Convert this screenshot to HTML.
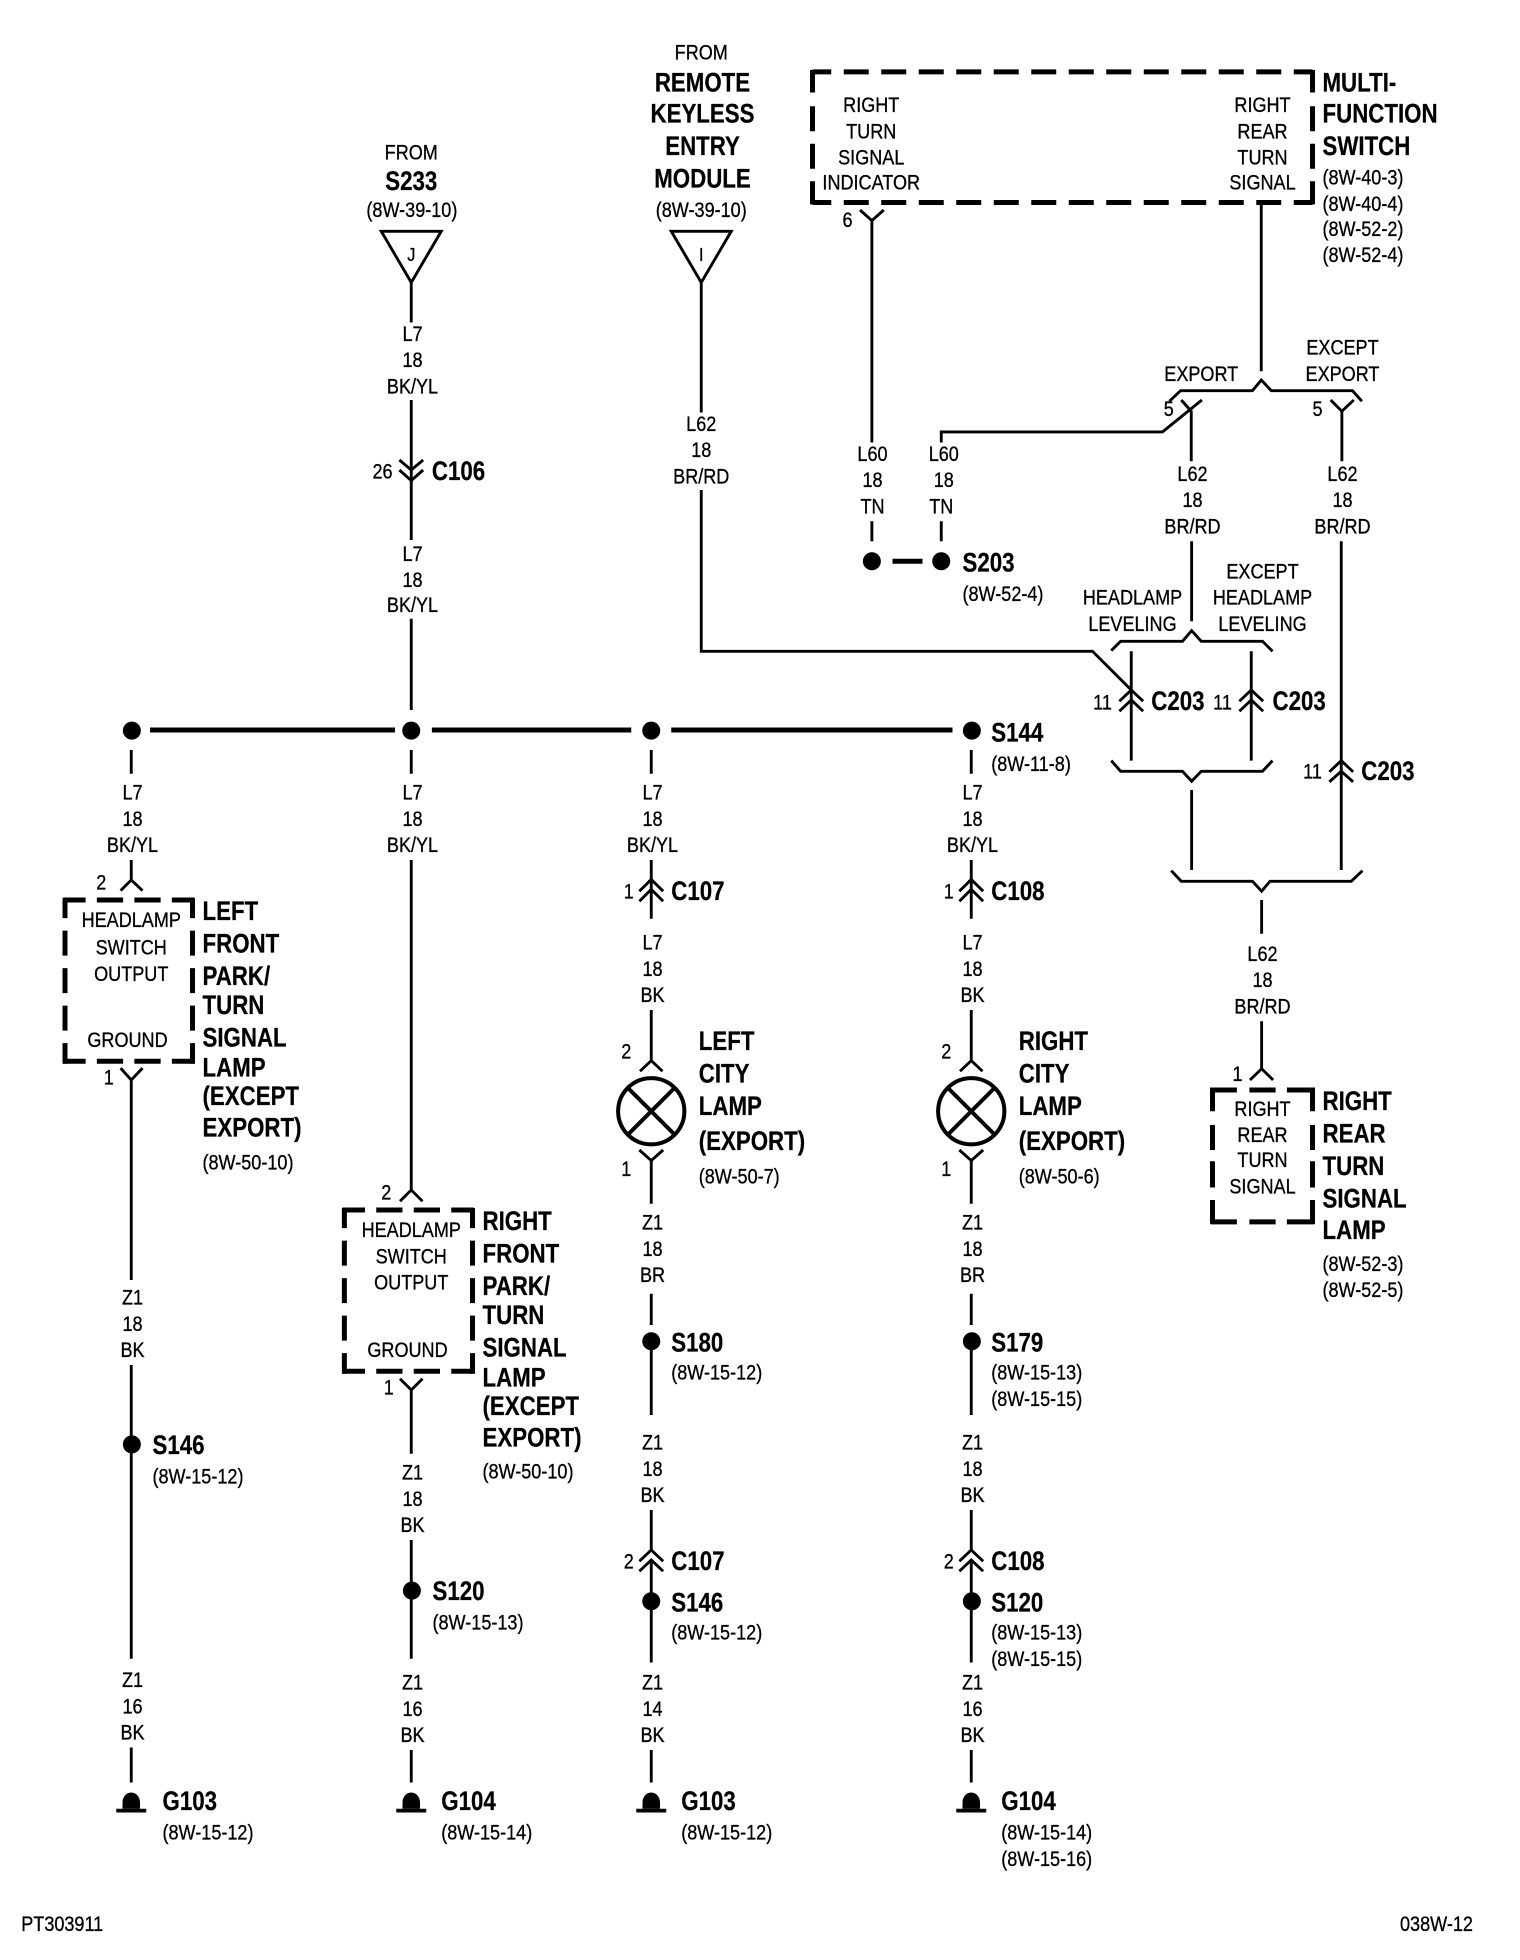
<!DOCTYPE html>
<html><head><meta charset="utf-8"><title>Wiring diagram</title>
<style>
html,body{margin:0;padding:0;background:#fff}
svg{display:block}
text{font-family:"Liberation Sans",sans-serif;fill:#000;dominant-baseline:central;transform-box:fill-box}
.t{font-size:16.8px;text-anchor:middle;transform:translateY(.6px) scaleX(.86);transform-origin:center;stroke:#000;stroke-width:.25}
.l{font-size:16.8px;text-anchor:start;transform:translateY(.6px) scaleX(.86);transform-origin:left center;stroke:#000;stroke-width:.25}
.b{font-size:21.6px;font-weight:bold;text-anchor:start;transform:translateY(.6px) scaleX(.825);transform-origin:left center;stroke:#000;stroke-width:.2}
.m{font-size:21.6px;font-weight:bold;text-anchor:middle;transform:translateY(.6px) scaleX(.825);transform-origin:center;stroke:#000;stroke-width:.2}
.w{fill:none;stroke:#000;stroke-width:2.3}
.k{fill:none;stroke:#000;stroke-width:4}
.d{fill:none;stroke:#000;stroke-width:3.2}
</style></head><body>
<svg width="1520" height="1960" viewBox="0 0 1216 1568" xmlns="http://www.w3.org/2000/svg">
<rect width="1216" height="1568" fill="#fff"/>
<!-- top-left feeds -->
<text class="t" x="329" y="122">FROM</text><text class="m" x="329" y="145">S233</text><text class="t" x="329.500" y="168">(8W-39-10)</text>
<polygon class="w" points="305,185 353,185 329,226"/><text class="t" x="329" y="203" style="font-size:15px">J</text>
<path class="w" d="M329 226V258M329 320V432M329 495V568"/>
<text class="t" x="330" y="267">L7</text><text class="t" x="330" y="288">18</text><text class="t" x="330" y="309">BK/YL</text>
<path class="w" d="M319.500 368L329 376L338.500 368M319.500 376L329 384.500L338.500 376"/>
<text class="t" x="306" y="377">26</text><text class="b" x="345.500" y="377">C106</text>
<text class="t" x="330" y="443">L7</text><text class="t" x="330" y="464">18</text><text class="t" x="330" y="484">BK/YL</text>

<text class="t" x="561" y="42">FROM</text><text class="m" x="562" y="66">REMOTE</text><text class="m" x="562" y="91">KEYLESS</text><text class="m" x="562" y="117">ENTRY</text><text class="m" x="562" y="143">MODULE</text><text class="t" x="561" y="168">(8W-39-10)</text>
<polygon class="w" points="537,185 585,185 561,226"/><text class="t" x="561" y="203" style="font-size:15px">I</text>
<path class="w" d="M561 226V330M561 392V521H874L905 552"/>
<text class="t" x="561" y="339">L62</text><text class="t" x="561" y="360">18</text><text class="t" x="561" y="381">BR/RD</text>

<!-- multifunction switch -->
<line class="k" x1="650" y1="57.500" x2="1050" y2="57.500" stroke-dasharray="20 10" stroke-dashoffset="5"/>
<line class="k" x1="650" y1="162" x2="1050" y2="162" stroke-dasharray="20 10" stroke-dashoffset="5"/>
<line class="k" x1="650" y1="56" x2="650" y2="163.500" stroke-dasharray="18 11 20 10 20 10 19"/>
<line class="k" x1="1050" y1="56" x2="1050" y2="163.500" stroke-dasharray="18 11 20 10 20 10 19"/>
<text class="t" x="697" y="84">RIGHT</text><text class="t" x="697" y="105">TURN</text><text class="t" x="697" y="126">SIGNAL</text><text class="t" x="697" y="146">INDICATOR</text>
<text class="t" x="1010" y="84">RIGHT</text><text class="t" x="1010" y="105">REAR</text><text class="t" x="1010" y="126">TURN</text><text class="t" x="1010" y="146">SIGNAL</text>
<text class="b" x="1058" y="66">MULTI-</text><text class="b" x="1058" y="91">FUNCTION</text><text class="b" x="1058" y="117">SWITCH</text>
<text class="l" x="1058" y="142">(8W-40-3)</text><text class="l" x="1058" y="163">(8W-40-4)</text><text class="l" x="1058" y="183">(8W-52-2)</text><text class="l" x="1058" y="204">(8W-52-4)</text>

<path class="w" d="M688 168L697.500 176.500L707 168M697.500 176.500V354M697.500 417V433"/>
<text class="t" x="678" y="176">6</text>
<text class="t" x="698" y="363">L60</text><text class="t" x="698" y="384">18</text><text class="t" x="698" y="405">TN</text>
<text class="t" x="755" y="363">L60</text><text class="t" x="755" y="384">18</text><text class="t" x="753" y="405">TN</text>
<path class="w" d="M753 354V345.500H930L961.500 320M945 320L953 329V369M753 417V433"/>
<circle cx="697.500" cy="449" r="7.200"/><circle cx="753" cy="449" r="7.200"/>
<line class="k" x1="714" y1="449" x2="738" y2="449"/>
<text class="b" x="770" y="450">S203</text><text class="l" x="770" y="475">(8W-52-4)</text>

<path class="w" d="M1009 162V297"/>
<path class="w" d="M935.500 321L944.500 312.500H1002L1009 304L1017 312.500H1082L1089.500 321"/>
<text class="t" x="961" y="299">EXPORT</text><text class="t" x="1074" y="278">EXCEPT</text><text class="t" x="1074" y="299">EXPORT</text>
<text class="t" x="935" y="327">5</text><text class="t" x="1054" y="327">5</text>
<path class="w" d="M1064.500 320L1073.500 329L1083 320M1073.500 329V369"/>
<text class="t" x="954" y="379">L62</text><text class="t" x="954" y="400">18</text><text class="t" x="954" y="421">BR/RD</text>
<text class="t" x="1074" y="379">L62</text><text class="t" x="1074" y="400">18</text><text class="t" x="1074" y="421">BR/RD</text>
<path class="w" d="M953.300 433V497M1073 433V696"/>
<text class="t" x="906" y="478">HEADLAMP</text><text class="t" x="906" y="499">LEVELING</text>
<text class="t" x="1010" y="457">EXCEPT</text><text class="t" x="1010" y="478">HEADLAMP</text><text class="t" x="1010" y="499">LEVELING</text>
<path class="w" d="M889 520.500L896.500 513H946L953.300 504.500L961 513H1010L1018 521"/>
<path class="w" d="M905 521V608.500M1001 521V608.500"/>
<path class="w" d="M895.500 561L905 552L914.500 561M895.500 569L905 560L914.500 569"/>
<path class="w" d="M991.500 561L1001 552L1010.500 561M991.500 569L1001 560L1010.500 569"/>
<path class="w" d="M1063.500 617.500L1073 608.500L1082.500 617.500M1063.500 625.500L1073 617L1082.500 625.500"/>
<text class="t" x="882" y="562">11</text><text class="b" x="921" y="561">C203</text>
<text class="t" x="978" y="562">11</text><text class="b" x="1018" y="561">C203</text>
<text class="t" x="1050" y="617">11</text><text class="b" x="1089" y="617">C203</text>
<path class="w" d="M889 608.500L896.500 617H946L953.300 625L961 617H1010L1018 608.500M953.300 632V696"/>
<path class="w" d="M937 696.500L945 705H1002L1009.300 713L1016 705H1081L1090 696.500M1009.300 720V747"/>
<text class="t" x="1010" y="763">L62</text><text class="t" x="1010" y="784">18</text><text class="t" x="1010" y="805">BR/RD</text>
<path class="w" d="M1009.300 817V855M1000 864L1009.300 855L1018.500 864"/>
<text class="t" x="990" y="859">1</text>
<!-- right rear lamp box -->
<line class="k" x1="968.500" y1="872" x2="1051.500" y2="872" stroke-dasharray="21 10 21 9 22"/>
<line class="k" x1="968.500" y1="977.500" x2="1051.500" y2="977.500" stroke-dasharray="21 10 21 9 22"/>
<line class="k" x1="970" y1="870" x2="970" y2="979" stroke-dasharray="19 11 20 9 21 10 20"/>
<line class="k" x1="1050" y1="870" x2="1050" y2="979" stroke-dasharray="19 11 20 9 21 10 20"/>
<text class="t" x="1010" y="887">RIGHT</text><text class="t" x="1010" y="908">REAR</text><text class="t" x="1010" y="928">TURN</text><text class="t" x="1010" y="949">SIGNAL</text>
<text class="b" x="1058" y="881">RIGHT</text><text class="b" x="1058" y="907">REAR</text><text class="b" x="1058" y="933">TURN</text><text class="b" x="1058" y="959">SIGNAL</text><text class="b" x="1058" y="984">LAMP</text>
<text class="l" x="1058" y="1011">(8W-52-3)</text><text class="l" x="1058" y="1032">(8W-52-5)</text>

<!-- bus -->
<path class="k" d="M120 584H316M345.500 584H505M537 584H762"/>
<circle cx="105.500" cy="584.500" r="7.200"/><circle cx="329" cy="584.500" r="7.200"/><circle cx="521" cy="584.500" r="7.200"/><circle cx="777.500" cy="584.500" r="7.200"/>
<text class="b" x="793" y="586">S144</text><text class="l" x="793" y="611">(8W-11-8)</text>

<!-- column 105 -->
<path class="w" d="M105 600V619M105 688V704M96.500 712.500L105 704L114 712.500"/>
<text class="t" x="106" y="634">L7</text><text class="t" x="106" y="655">18</text><text class="t" x="106" y="676">BK/YL</text>
<text class="t" x="81" y="706">2</text>
<line class="k" x1="50.500" y1="720" x2="155.500" y2="720" stroke-dasharray="18 9 21 9 21 9 18"/>
<line class="k" x1="50.500" y1="849" x2="155.500" y2="849" stroke-dasharray="18 9 21 9 21 9 18"/>
<line class="k" x1="52" y1="718.500" x2="52" y2="851" stroke-dasharray="16 10 20 10 20 10 20 10 17"/>
<line class="k" x1="154" y1="718.500" x2="154" y2="851" stroke-dasharray="16 10 20 10 20 10 20 10 17"/>
<text class="t" x="105" y="736">HEADLAMP</text><text class="t" x="105" y="758">SWITCH</text><text class="t" x="105" y="779">OUTPUT</text><text class="t" x="102" y="832">GROUND</text>
<text class="b" x="162" y="729">LEFT</text><text class="b" x="162" y="755">FRONT</text><text class="b" x="162" y="781">PARK/</text><text class="b" x="162" y="804">TURN</text><text class="b" x="162" y="830">SIGNAL</text><text class="b" x="162" y="854">LAMP</text><text class="b" x="162" y="877">(EXCEPT</text><text class="b" x="162" y="902">EXPORT)</text><text class="l" x="162" y="930">(8W-50-10)</text>
<text class="t" x="87" y="862">1</text>
<path class="w" d="M96.500 854.500L105 864L114 854.500M105 864V1024"/>
<text class="t" x="106" y="1038">Z1</text><text class="t" x="106" y="1059">18</text><text class="t" x="106" y="1080">BK</text>
<path class="w" d="M105 1092V1327M105 1398V1426"/>
<circle cx="105.500" cy="1155.500" r="7.200"/>
<text class="b" x="122" y="1156">S146</text><text class="l" x="122" y="1181">(8W-15-12)</text>
<text class="t" x="106" y="1344">Z1</text><text class="t" x="106" y="1365">16</text><text class="t" x="106" y="1386">BK</text>
<path d="M98 1442A7 8 0 0 1 112 1442L112 1447H98Z"/><rect x="93" y="1447" width="24" height="3"/>
<text class="b" x="130" y="1441">G103</text><text class="l" x="130" y="1466">(8W-15-12)</text>

<!-- column 329 -->
<path class="w" d="M329 600V619M329 688V952M320 961L329 952L338 961"/>
<text class="t" x="330" y="634">L7</text><text class="t" x="330" y="655">18</text><text class="t" x="330" y="676">BK/YL</text>
<text class="t" x="309" y="954">2</text>
<line class="k" x1="274" y1="968" x2="379.500" y2="968" stroke-dasharray="18 9 21 9 21 9 18"/>
<line class="k" x1="274" y1="1097" x2="379.500" y2="1097" stroke-dasharray="18 9 21 9 21 9 18"/>
<line class="k" x1="275.500" y1="966.500" x2="275.500" y2="1099" stroke-dasharray="16 10 20 10 20 10 20 10 17"/>
<line class="k" x1="378" y1="966.500" x2="378" y2="1099" stroke-dasharray="16 10 20 10 20 10 20 10 17"/>
<text class="t" x="329" y="984">HEADLAMP</text><text class="t" x="329" y="1005">SWITCH</text><text class="t" x="329" y="1026">OUTPUT</text><text class="t" x="326" y="1080">GROUND</text>
<text class="b" x="386" y="977">RIGHT</text><text class="b" x="386" y="1003">FRONT</text><text class="b" x="386" y="1029">PARK/</text><text class="b" x="386" y="1052">TURN</text><text class="b" x="386" y="1078">SIGNAL</text><text class="b" x="386" y="1102">LAMP</text><text class="b" x="386" y="1125">(EXCEPT</text><text class="b" x="386" y="1150">EXPORT)</text><text class="l" x="386" y="1177">(8W-50-10)</text>
<text class="t" x="311" y="1110">1</text>
<path class="w" d="M320 1103L329 1112L338 1103M329 1112V1163M329 1232V1327M329 1400V1426"/>
<text class="t" x="330" y="1178">Z1</text><text class="t" x="330" y="1199">18</text><text class="t" x="330" y="1220">BK</text>
<circle cx="329.500" cy="1272.500" r="7.200"/>
<text class="b" x="346" y="1273">S120</text><text class="l" x="346" y="1298">(8W-15-13)</text>
<text class="t" x="330" y="1346">Z1</text><text class="t" x="330" y="1367">16</text><text class="t" x="330" y="1388">BK</text>
<path d="M322 1442A7 8 0 0 1 336 1442L336 1447H322Z"/><rect x="317" y="1447" width="24" height="3"/>
<text class="b" x="353" y="1441">G104</text><text class="l" x="353" y="1466">(8W-15-14)</text>

<!-- column 521 -->
<path class="w" d="M521 600V619M521 688V735M511.500 713L521 703.500L530.500 713M511.500 721L521 711.500L530.500 721M521 808V848.500M512 857L521 848.500L530 857"/>
<text class="t" x="522" y="634">L7</text><text class="t" x="522" y="655">18</text><text class="t" x="522" y="676">BK/YL</text>
<text class="t" x="503" y="713">1</text><text class="b" x="537" y="713">C107</text>
<text class="t" x="522" y="754">L7</text><text class="t" x="522" y="775">18</text><text class="t" x="522" y="796">BK</text>
<text class="t" x="501" y="841">2</text>
<circle class="d" cx="521" cy="889" r="26.500"/><path class="d" d="M502.500 870.500L539.500 907.500M539.500 870.500L502.500 907.500"/>
<text class="t" x="501" y="935">1</text>
<text class="b" x="559" y="833">LEFT</text><text class="b" x="559" y="859">CITY</text><text class="b" x="559" y="885">LAMP</text><text class="b" x="559" y="913">(EXPORT)</text><text class="l" x="559" y="941">(8W-50-7)</text>
<path class="w" d="M511.500 920L521 928.500L530.500 920M521 928.500V963M521 1035V1060M521 1073V1132M521 1208V1240M511.500 1249L521 1240L530.500 1249M511.500 1257L521 1248L530.500 1257M521 1248V1330M521 1400V1426"/>
<text class="t" x="522" y="978">Z1</text><text class="t" x="522" y="999">18</text><text class="t" x="522" y="1020">BR</text>
<circle cx="521" cy="1073" r="7.200"/>
<text class="b" x="537" y="1074">S180</text><text class="l" x="537" y="1098">(8W-15-12)</text>
<text class="t" x="522" y="1154">Z1</text><text class="t" x="522" y="1175">18</text><text class="t" x="522" y="1196">BK</text>
<text class="t" x="503" y="1249">2</text><text class="b" x="537" y="1249">C107</text>
<circle cx="521" cy="1281" r="7.200"/>
<text class="b" x="537" y="1282">S146</text><text class="l" x="537" y="1306">(8W-15-12)</text>
<text class="t" x="522" y="1346">Z1</text><text class="t" x="522" y="1367">14</text><text class="t" x="522" y="1388">BK</text>
<path d="M514 1442A7 8 0 0 1 528 1442L528 1447H514Z"/><rect x="509" y="1447" width="24" height="3"/>
<text class="b" x="545" y="1441">G103</text><text class="l" x="545" y="1466">(8W-15-12)</text>

<!-- column 777 -->
<path class="w" d="M777 600V619M777 688V735M767.500 713L777 703.500L786.500 713M767.500 721L777 711.500L786.500 721M777 808V848.500M768 857L777 848.500L786 857"/>
<text class="t" x="778" y="634">L7</text><text class="t" x="778" y="655">18</text><text class="t" x="778" y="676">BK/YL</text>
<text class="t" x="759" y="713">1</text><text class="b" x="793" y="713">C108</text>
<text class="t" x="778" y="754">L7</text><text class="t" x="778" y="775">18</text><text class="t" x="778" y="796">BK</text>
<text class="t" x="757" y="841">2</text>
<circle class="d" cx="777" cy="889" r="26.500"/><path class="d" d="M758.500 870.500L795.500 907.500M795.500 870.500L758.500 907.500"/>
<text class="t" x="757" y="935">1</text>
<text class="b" x="815" y="833">RIGHT</text><text class="b" x="815" y="859">CITY</text><text class="b" x="815" y="885">LAMP</text><text class="b" x="815" y="913">(EXPORT)</text><text class="l" x="815" y="941">(8W-50-6)</text>
<path class="w" d="M767.500 920L777 928.500L786.500 920M777 928.500V963M777 1035V1060M777 1073V1132M777 1208V1240M767.500 1249L777 1240L786.500 1249M767.500 1257L777 1248L786.500 1257M777 1248V1330M777 1400V1426"/>
<text class="t" x="778" y="978">Z1</text><text class="t" x="778" y="999">18</text><text class="t" x="778" y="1020">BR</text>
<circle cx="777.500" cy="1073" r="7.200"/>
<text class="b" x="793" y="1074">S179</text><text class="l" x="793" y="1098">(8W-15-13)</text><text class="l" x="793" y="1119">(8W-15-15)</text>
<text class="t" x="778" y="1154">Z1</text><text class="t" x="778" y="1175">18</text><text class="t" x="778" y="1196">BK</text>
<text class="t" x="759" y="1249">2</text><text class="b" x="793" y="1249">C108</text>
<circle cx="777.500" cy="1281" r="7.200"/>
<text class="b" x="793" y="1282">S120</text><text class="l" x="793" y="1306">(8W-15-13)</text><text class="l" x="793" y="1327">(8W-15-15)</text>
<text class="t" x="778" y="1346">Z1</text><text class="t" x="778" y="1367">16</text><text class="t" x="778" y="1388">BK</text>
<path d="M770 1442A7 8 0 0 1 784 1442L784 1447H770Z"/><rect x="765" y="1447" width="24" height="3"/>
<text class="b" x="801" y="1441">G104</text><text class="l" x="801" y="1466">(8W-15-14)</text><text class="l" x="801" y="1487">(8W-15-16)</text>

<!-- footer -->
<text class="l" x="17" y="1539">PT303911</text>
<text class="l" x="1120" y="1539">038W-12</text>
</svg>
</body></html>
